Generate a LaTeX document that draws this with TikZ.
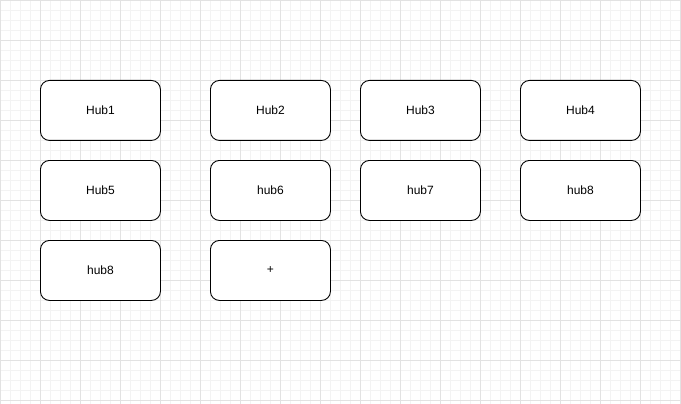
\documentclass[tikz,border=0pt]{standalone}
\usepackage{fontspec}
\setmainfont{Liberation Sans}
\definecolor{minorgrid}{HTML}{F3F3F3}
\definecolor{majorgrid}{HTML}{E2E2E2}
\begin{document}
\begin{tikzpicture}[x=1pt,y=-1pt,
  hub/.style={draw=black,line width=0.9pt,rounded corners=9pt,fill=white,minimum width=120pt,minimum height=60pt,inner sep=0pt,font=\fontsize{12}{14}\selectfont,anchor=north west}]
\useasboundingbox (0,0) rectangle (681,404);
\fill[white] (0,0) rectangle (681,404);
\foreach \x in {0,10,...,680} \draw[minorgrid,line width=0.8pt] (\x,0) -- (\x,404);
\foreach \y in {0,10,...,400} \draw[minorgrid,line width=0.8pt] (0,\y) -- (681,\y);
\foreach \x in {0,40,...,680} \draw[majorgrid,line width=0.8pt] (\x,0) -- (\x,404);
\foreach \y in {0,40,...,400} \draw[majorgrid,line width=0.8pt] (0,\y) -- (681,\y);
\node[hub] (h1) at (40,80) {Hub1};
\node[hub] (h2) at (210,80) {Hub2};
\node[hub] (h3) at (360,80) {Hub3};
\node[hub] (h4) at (520,80) {Hub4};
\node[hub] (h5) at (40,160) {Hub5};
\node[hub] (h6) at (210,160) {hub6};
\node[hub] (h7) at (360,160) {hub7};
\node[hub] (h8) at (520,160) {hub8};
\node[hub] (h9) at (40,240) {hub8};
\node[hub] (h10) at (210,240) {+};
\end{tikzpicture}
\end{document}
